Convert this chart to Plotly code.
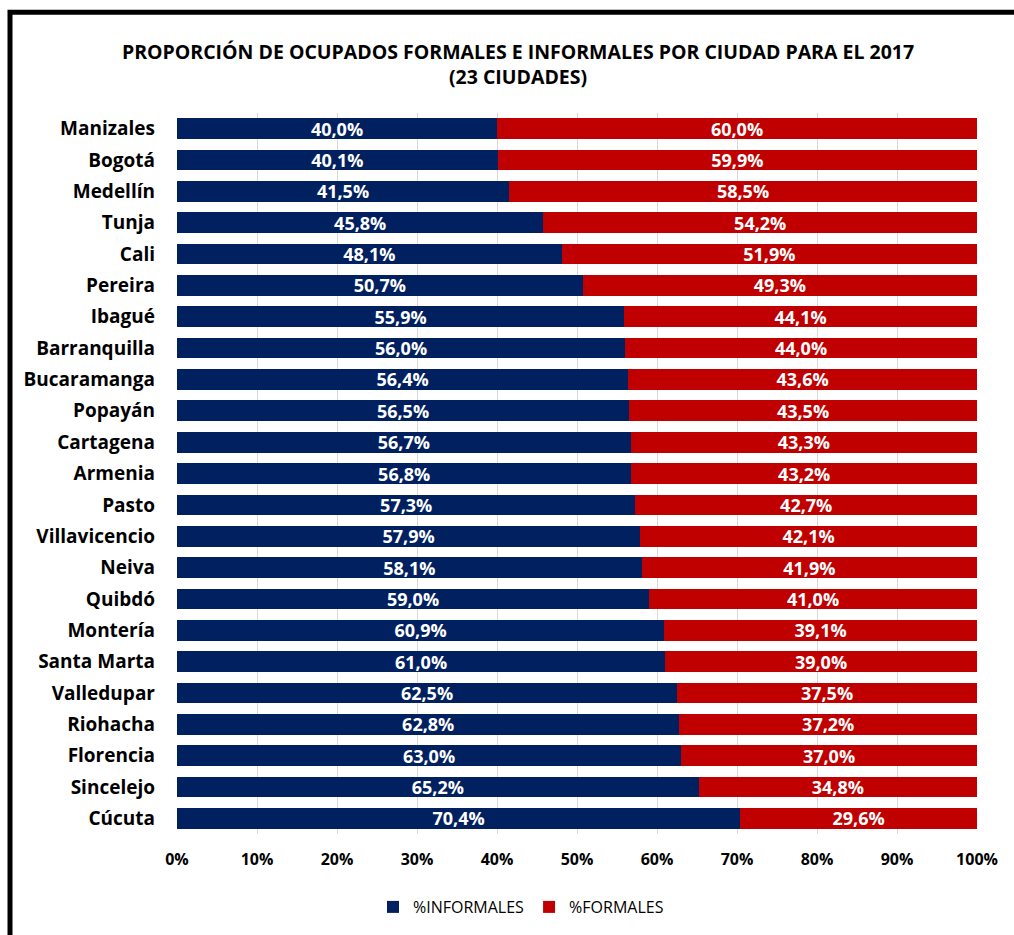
import plotly.graph_objects as go

cities = ["Manizales", "Bogotá", "Medellín", "Tunja", "Cali", "Pereira", "Ibagué",
          "Barranquilla", "Bucaramanga", "Popayán", "Cartagena", "Armenia", "Pasto",
          "Villavicencio", "Neiva", "Quibdó", "Montería", "Santa Marta", "Valledupar",
          "Riohacha", "Florencia", "Sincelejo", "Cúcuta"]
informales = [40.0, 40.1, 41.5, 45.8, 48.1, 50.7, 55.9, 56.0, 56.4, 56.5, 56.7, 56.8,
              57.3, 57.9, 58.1, 59.0, 60.9, 61.0, 62.5, 62.8, 63.0, 65.2, 70.4]
formales = [60.0, 59.9, 58.5, 54.2, 51.9, 49.3, 44.1, 44.0, 43.6, 43.5, 43.3, 43.2,
            42.7, 42.1, 41.9, 41.0, 39.1, 39.0, 37.5, 37.2, 37.0, 34.8, 29.6]
tick_vals = [0, 10, 20, 30, 40, 50, 60, 70, 80, 90, 100]
tick_text = [f"{v}%" for v in tick_vals]

FONT = "'Open Sans', sans-serif"

fig = go.Figure()
fig.add_trace(go.Bar(
    y=cities, x=[v / 100 for v in informales], orientation="h", name="%INFORMALES",
    marker=dict(color="#002060", line=dict(width=0)),
    texttemplate="%{x:.1%}", textposition="inside", insidetextanchor="middle",
    textfont=dict(color="white", size=18, family=FONT, weight="bold"),
))
fig.add_trace(go.Bar(
    y=cities, x=[v / 100 for v in formales], orientation="h", name="%FORMALES",
    marker=dict(color="#C00000", line=dict(width=0)),
    texttemplate="%{x:.1%}", textposition="inside", insidetextanchor="middle",
    textfont=dict(color="white", size=18, family=FONT, weight="bold"),
))

W, H = 1014, 935
L, R, T, B = 177, 37, 113, 100
pw, ph = W - L - R, H - T - B

def px_x(px):
    return (px - L) / pw

def px_y(py):
    return (H - B - py) / ph

fig.update_layout(
    width=W, height=H,
    margin=dict(l=L, r=R, t=T, b=B),
    barmode="stack", bargap=0.34,
    separators=",.",
    paper_bgcolor="white", plot_bgcolor="white",
    font=dict(family=FONT, color="#000000"),
    uniformtext=dict(minsize=18, mode="show"),
    title=dict(
        text="PROPORCIÓN DE OCUPADOS FORMALES E INFORMALES POR CIUDAD PARA EL 2017<br>(23 CIUDADES)",
        x=518 / W, xanchor="center", xref="container",
        y=1 - 59 / H, yanchor="middle", yref="container",
        font=dict(size=19.5, family=FONT, color="#000000", weight="bold"),
    ),
    xaxis=dict(
        range=[0, 1], tickvals=[v / 100 for v in tick_vals], ticktext=tick_text,
        showgrid=True, gridcolor="#D9D9D9", gridwidth=1, zeroline=False,
        showline=False, ticks="", ticklabelstandoff=14,
        tickfont=dict(size=16, family=FONT, color="#000000", weight="bold"),
        fixedrange=True,
    ),
    yaxis=dict(
        autorange="reversed", categoryorder="array", categoryarray=cities,
        showgrid=False, ticks="", ticklabelstandoff=21,
        tickfont=dict(size=19, family=FONT, color="#000000", weight="bold"),
        fixedrange=True,
    ),
    legend=dict(
        orientation="h", x=px_x(521), xanchor="center", y=px_y(907), yanchor="middle",
        font=dict(size=16, family=FONT, color="#000000"),
        traceorder="normal", itemwidth=30,
    ),
    shapes=[
        dict(type="rect", xref="paper", yref="paper",
             x0=px_x(10), x1=px_x(1030), y0=px_y(950), y1=px_y(12),
             line=dict(color="black", width=5), fillcolor="rgba(0,0,0,0)", layer="above"),
    ],
)

fig.write_html("out.html", config={"displayModeBar": False},
               post_script="document.body.style.margin='0';")
